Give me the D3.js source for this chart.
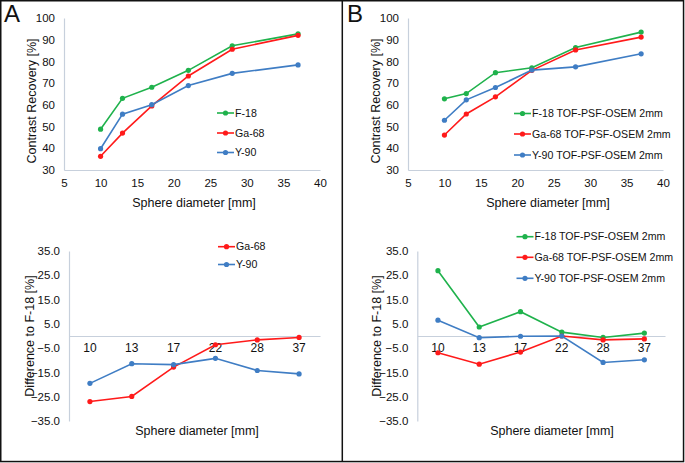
<!DOCTYPE html>
<html><head><meta charset="utf-8">
<script src="https://cdn.jsdelivr.net/npm/d3@7"></script>
<style>
body{margin:0;background:#fff;}
text{font-family:"Liberation Sans",Arial,sans-serif;fill:#111;}
</style></head>
<body>
<svg id="c" width="685" height="463"></svg>
<script>
// ---------- data ----------
const sizes = [10, 13, 17, 22, 28, 37];
const sizeLabels = ["10", "13", "17", "22", "28", "37"];
const xTicksTop = [5, 10, 15, 20, 25, 30, 35, 40];
const yTicksTop = [30, 40, 50, 60, 70, 80, 90, 100];
const yTicksDiff = [-35, -25, -15, -5, 5, 15, 25, 35];

const A_cr_F18  = [48.8, 63.0, 68.1, 75.9, 87.2, 92.7];
const A_cr_Ga68 = [36.3, 47.0, 59.5, 73.3, 85.6, 92.0];
const A_cr_Y90  = [39.8, 55.7, 60.1, 68.9, 74.5, 78.4];

const B_cr_F18  = [62.8, 65.2, 74.8, 77.1, 86.4, 93.5];
const B_cr_Ga68 = [46.1, 55.8, 63.7, 75.9, 85.3, 91.2];
const B_cr_Y90  = [52.9, 62.3, 68.0, 76.0, 77.5, 83.5];

const A_diff_Ga68 = [-27.0, -24.9, -12.8, -3.6, -1.6, -0.6];
const A_diff_Y90  = [-19.5, -11.4, -11.8, -9.2, -14.2, -15.6];

const B_diff_F18  = [26.9, 3.7, 10.0, 1.6, -0.6, 1.2];
const B_diff_Ga68 = [-6.9, -11.6, -6.6, 0.0, -1.6, -1.2];
const B_diff_Y90  = [6.5, -0.7, -0.1, 0.0, -10.9, -9.8];

const namesA = ["F-18", "Ga-68", "Y-90"];
const namesB = ["F-18 TOF-PSF-OSEM 2mm", "Ga-68 TOF-PSF-OSEM 2mm", "Y-90 TOF-PSF-OSEM 2mm"];
const colors = ["#1fb24c", "#ff1a1a", "#3f7dc4"];
// ---------------------------

const svg = d3.select("#c");
const axisCol = "#c7d0dc";

// frame
svg.append("rect").attr("x", 0.75).attr("y", 0.75).attr("width", 682.8).attr("height", 460.8)
  .attr("fill", "none").attr("stroke", "#111").attr("stroke-width", 1.5);
svg.append("line").attr("x1", 342.3).attr("x2", 342.3).attr("y1", 0).attr("y2", 462)
  .attr("stroke", "#111").attr("stroke-width", 1.5);

svg.append("text").attr("x", 4).attr("y", 22).attr("font-size", 24).text("A");
svg.append("text").attr("x", 347).attr("y", 22).attr("font-size", 24).text("B");

function drawSeries(g, xs, ys, color, xf, yf) {
  const line = d3.line().x((d, i) => xf(xs[i])).y(d => yf(d));
  g.append("path").datum(ys).attr("d", line).attr("fill", "none")
    .attr("stroke", color).attr("stroke-width", 1.6);
  g.selectAll(null).data(ys).enter().append("circle")
    .attr("cx", (d, i) => xf(xs[i])).attr("cy", d => yf(d)).attr("r", 2.6)
    .attr("fill", color);
}

function legend(g, x, ys, names, cols) {
  names.forEach((n, i) => {
    g.append("line").attr("x1", x).attr("x2", x + 17).attr("y1", ys[i]).attr("y2", ys[i])
      .attr("stroke", cols[i]).attr("stroke-width", 1.6);
    g.append("circle").attr("cx", x + 8.5).attr("cy", ys[i]).attr("r", 2.6).attr("fill", cols[i]);
    g.append("text").attr("x", x + 18).attr("y", ys[i]).attr("dy", "0.35em")
      .attr("font-size", 10.6).text(n);
  });
}

function topPanel(x0, x1, titleX, xTitleX, series, names, legX, legYs) {
  const g = svg.append("g");
  const x = d3.scaleLinear().domain([5, 40]).range([x0, x1]);
  const y = d3.scaleLinear().domain([30, 100]).range([170, 18]);
  const ax = g.append("g").attr("transform", "translate(0,170)")
    .call(d3.axisBottom(x).tickValues(xTicksTop).tickSize(0).tickPadding(9));
  ax.select(".domain").attr("stroke", axisCol).attr("stroke-width", 1.2);
  ax.selectAll("text").attr("font-size", 11.5).attr("font-family", "Liberation Sans, Arial").attr("fill", "#111");
  const ay = g.append("g").attr("transform", `translate(${x0},0)`)
    .call(d3.axisLeft(y).tickValues(yTicksTop).tickSize(0).tickPadding(9));
  ay.select(".domain").attr("stroke", axisCol).attr("stroke-width", 1.2);
  ay.selectAll("text").attr("font-size", 11.5).attr("font-family", "Liberation Sans, Arial").attr("fill", "#111");
  series.forEach((s, i) => drawSeries(g, sizes, s, colors[i], x, y));
  g.append("text").attr("transform", `translate(${titleX},101) rotate(-90)`)
    .attr("text-anchor", "middle").attr("dy", "0.35em").attr("font-size", 12.5)
    .text("Contrast Recovery [%]");
  g.append("text").attr("x", xTitleX).attr("y", 203).attr("dy", "0.35em")
    .attr("text-anchor", "middle").attr("font-size", 12.5).text("Sphere diameter [mm]");
  legend(g, legX, legYs, names, colors);
}

function bottomPanel(x0, x1, titleX, xTitleX, series, names, cols, legX, legYs) {
  const g = svg.append("g");
  const x = d3.scaleBand().domain(sizeLabels).range([x0, x1]);
  const xc = v => x(v) + x.bandwidth() / 2;
  const y = d3.scaleLinear().domain([-35, 35]).range([421, 251]);
  const ay = g.append("g").attr("transform", `translate(${x0},0)`)
    .call(d3.axisLeft(y).tickValues(yTicksDiff).tickFormat(d3.format(".1f")).tickSize(0).tickPadding(9));
  ay.select(".domain").attr("stroke", axisCol).attr("stroke-width", 1.2);
  ay.selectAll("text").attr("font-size", 11.5).attr("font-family", "Liberation Sans, Arial").attr("fill", "#111");
  const ax = g.append("g").attr("transform", `translate(0,${y(0)})`)
    .call(d3.axisBottom(x).tickSize(0).tickPadding(7));
  ax.select(".domain").attr("stroke", axisCol).attr("stroke-width", 1.2);
  ax.selectAll("text").attr("font-size", 12).attr("font-family", "Liberation Sans, Arial").attr("fill", "#111");
  series.forEach((s, i) => drawSeries(g, sizeLabels, s, cols[i], xc, y));
  g.append("text").attr("transform", `translate(${titleX},336) rotate(-90)`)
    .attr("text-anchor", "middle").attr("dy", "0.35em").attr("font-size", 12.5)
    .text("Difference to F-18 [%]");
  g.append("text").attr("x", xTitleX).attr("y", 431).attr("dy", "0.35em")
    .attr("text-anchor", "middle").attr("font-size", 12.5).text("Sphere diameter [mm]");
  legend(g, legX, legYs, names, cols);
}

topPanel(64, 320, 32, 194, [A_cr_F18, A_cr_Ga68, A_cr_Y90], namesA, 217, [113, 133, 152.5]);
topPanel(408, 663, 376, 548, [B_cr_F18, B_cr_Ga68, B_cr_Y90], namesB, 514, [113.5, 134, 155]);
bottomPanel(69, 320, 30, 197, [A_diff_Ga68, A_diff_Y90], ["Ga-68", "Y-90"], [colors[1], colors[2]], 218, [246.7, 264.5]);
bottomPanel(417.3, 665, 377, 552, [B_diff_F18, B_diff_Ga68, B_diff_Y90], namesB, colors, 516.5, [236.7, 257.3, 278.3]);
</script>
</body></html>
